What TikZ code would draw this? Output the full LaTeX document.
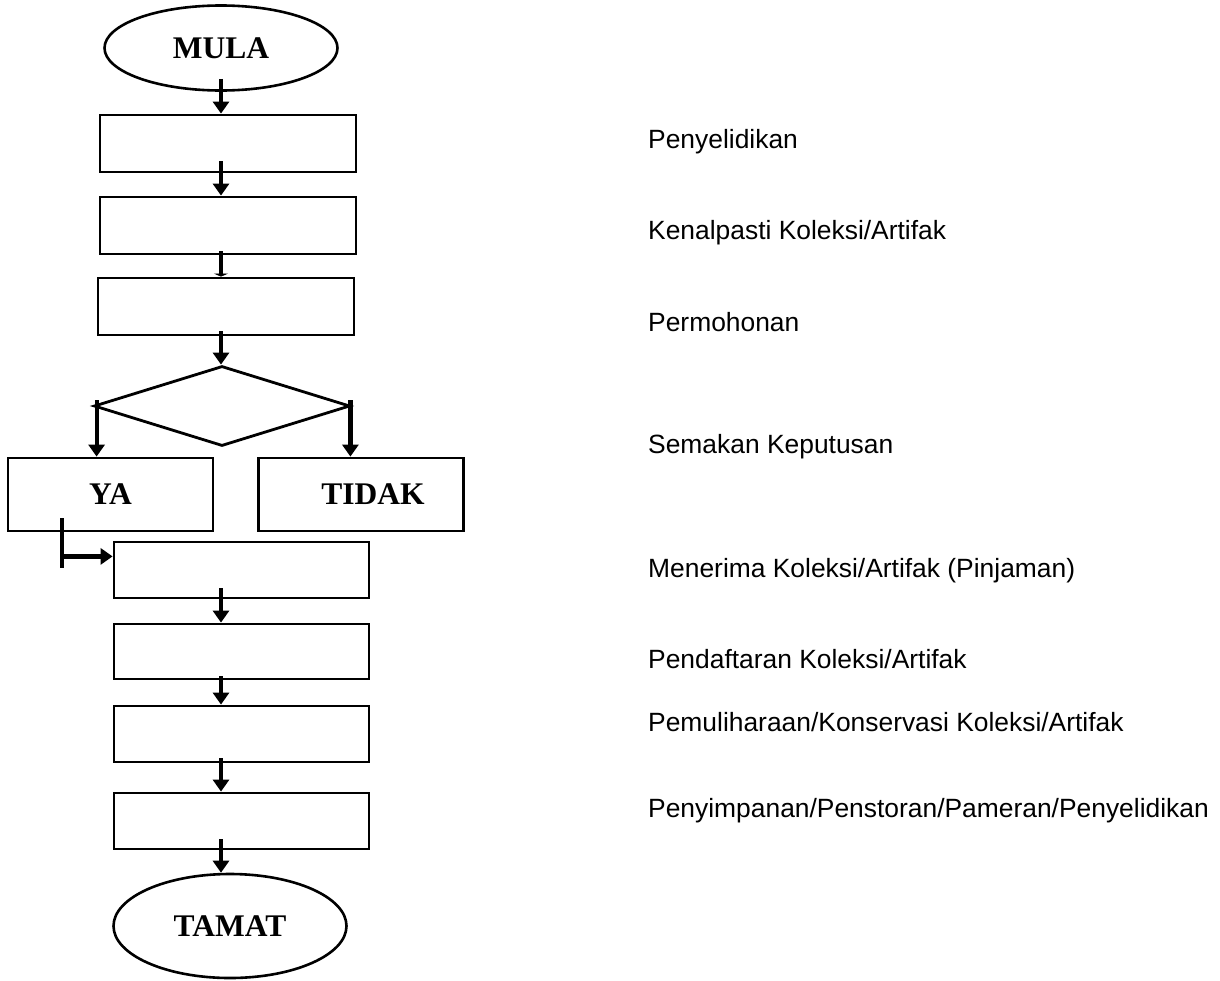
\documentclass[tikz,border=0pt]{standalone}
\usepackage{fontspec}
\setmainfont{Liberation Serif}
\newfontfamily\arialf{Liberation Sans}
\usetikzlibrary{arrows.meta,shapes.geometric,calc}
\tikzset{
  boxn/.style={draw, line width=2.8pt, rectangle, inner sep=0pt, minimum width=256pt, minimum height=57pt},
  ovaln/.style={draw, line width=2.6pt, ellipse, inner sep=0pt, minimum width=233pt, font=\bfseries\fontsize{31.5}{36}\selectfont},
  choice/.style={draw, line width=2.8pt, rectangle, inner sep=0pt, minimum width=205pt, minimum height=73pt, font=\bfseries\fontsize{31.5}{36}\selectfont},
  arr/.style={line width=4.2pt, -{Triangle[length=12pt,width=16pt]}},
  arrs/.style={line width=4.2pt, -{Triangle[length=3pt,width=14pt]}},
  bar/.style={line width=4.2pt},
  lbl/.style={anchor=base west, inner sep=0pt, font=\arialf\fontsize{26.4}{30}\selectfont}
}
\begin{document}
\begin{tikzpicture}[x=1pt,y=1pt]
\useasboundingbox (0,0) rectangle (1220,-980);
% nodes
\node[ovaln, minimum height=85pt] (mula) at (221,-48) {MULA};
\node[boxn] (b1) at (228,-143.5) {};
\node[boxn] (b2) at (228,-225.5) {};
\node[boxn] (b3) at (226,-306.5) {};
\node[draw, line width=2.8pt, diamond, inner sep=0pt, minimum width=256pt, minimum height=80pt] (dia) at (222,-406) {};
\node[choice] (ya) at (110.5,-494.5) {YA};
\node[choice] (tidak) at (361,-494.5) {\hspace*{24pt}TIDAK};
\node[boxn, minimum width=255pt, minimum height=56pt] (b5) at (241.5,-570) {};
\node[boxn, minimum width=255pt, minimum height=55pt] (b6) at (241.5,-651.5) {};
\node[boxn, minimum width=255pt, minimum height=56pt] (b7) at (241.5,-734) {};
\node[boxn, minimum width=255pt, minimum height=56pt] (b8) at (241.5,-821) {};
\node[ovaln, minimum height=104pt] (tamat) at (230,-926) {TAMAT};
% connectors
\draw[arr] ($(mula.south)+(0,13)$) -- (mula.south |- b1.north);
\draw[arr] ($(b1.south -| mula.center)+(0,12)$) -- (mula.center |- b2.north);
\draw[arrs] ($(b2.south -| mula.center)+(0,4)$) -- (mula.center |- b3.north);
\draw[arr] ($(b3.south -| mula.center)+(0,5)$) -- (mula.center |- dia.north);
\coordinate (yl) at ($(dia.west)+(4,6)$);
\coordinate (tl) at ($(dia.east)+(-1,6)$);
\draw[arr] (yl) -- (yl |- ya.north);
\draw[arr] (tl) -- (tl |- tidak.north);
\coordinate (j) at ($(ya.south west)+(55,-24)$);
\draw[bar] ($(j)+(0,38)$) -- ($(j)+(0,-12)$);
\draw[arr] (j) -- (j -| b5.west);
\draw[arr] ($(b5.south -| mula.center)+(0,11)$) -- (mula.center |- b6.north);
\draw[arr] ($(b6.south -| mula.center)+(0,4)$) -- (mula.center |- b7.north);
\draw[arr] ($(b7.south -| mula.center)+(0,5)$) -- (mula.center |- b8.north);
\draw[arr] ($(b8.south -| mula.center)+(0,11)$) -- (mula.center |- tamat.north);
% labels
\node[lbl] (t1) at (648,-148) {Penyelidikan};
\node[lbl] (t2) at (648,-239) {Kenalpasti Koleksi/Artifak};
\node[lbl] (t3) at (648,-331) {Permohonan};
\node[lbl] (t4) at (648,-453) {Semakan Keputusan};
\node[lbl] (t5) at (648,-577) {Menerima Koleksi/Artifak (Pinjaman)};
\node[lbl] (t6) at (648,-668) {Pendaftaran Koleksi/Artifak};
\node[lbl] (t7) at (648,-731) {Pemuliharaan/Konservasi Koleksi/Artifak};
\node[lbl] (t8) at (648,-817) {Penyimpanan/Penstoran/Pameran/Penyelidikan};
\end{tikzpicture}
\end{document}
